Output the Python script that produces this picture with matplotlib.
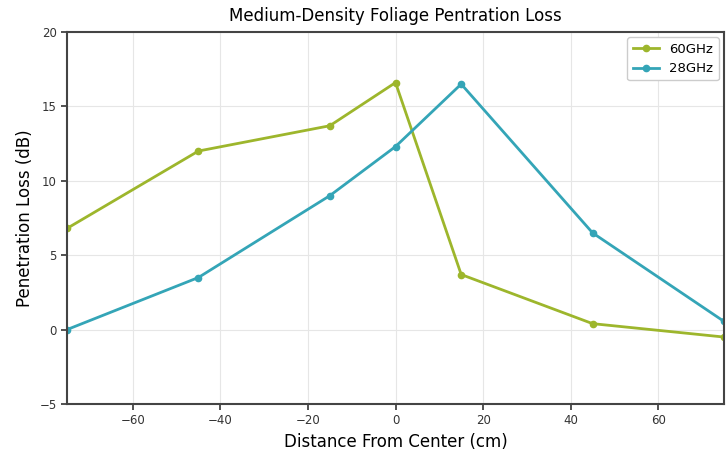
import matplotlib
matplotlib.use("Agg")
from matplotlib import pyplot as plt

# distances (cm) and losses (dB)
dist = [-75, -45, -15, 0, 15, 45, 75]
loss_60 = [6.8, 12.0, 13.7, 16.6, 3.7, 0.4, -0.5]
loss_28 = [0.0, 3.5, 9.0, 12.3, 16.5, 6.5, 0.55]

fig = plt.figure(figsize=(7.27, 4.54), dpi=100)
ax = fig.add_axes([67 / 727, 50 / 454, 657 / 727, 372 / 454])

ax.plot(dist, loss_60, color='#9db62c', marker='o', markersize=4.5, linewidth=2, label='60GHz')
ax.plot(dist, loss_28, color='#34a5b7', marker='o', markersize=4.5, linewidth=2, label='28GHz')

ax.set_xlim(-75, 75)
ax.set_ylim(-5, 20)
ax.set_xticks([-60, -40, -20, 0, 20, 40, 60])
ax.set_yticks([-5, 0, 5, 10, 15, 20])
ax.grid(True, color='#e6e6e6', linewidth=0.8)
ax.set_axisbelow(True)

for s in ax.spines.values():
    s.set_color('#444444')
    s.set_linewidth(1.5)
ax.tick_params(labelsize=8.5, colors='#333333', length=4, width=1.2)

ax.set_title('Medium-Density Foliage Pentration Loss', fontsize=12, pad=8)
ax.set_xlabel('Distance From Center (cm)', fontsize=12)
ax.set_ylabel('Penetration Loss (dB)', fontsize=12)
ax.legend(loc='upper right', fontsize=9.5, framealpha=1, edgecolor='#cccccc',
          borderaxespad=0.4)

fig.savefig('out.png', dpi=100)
